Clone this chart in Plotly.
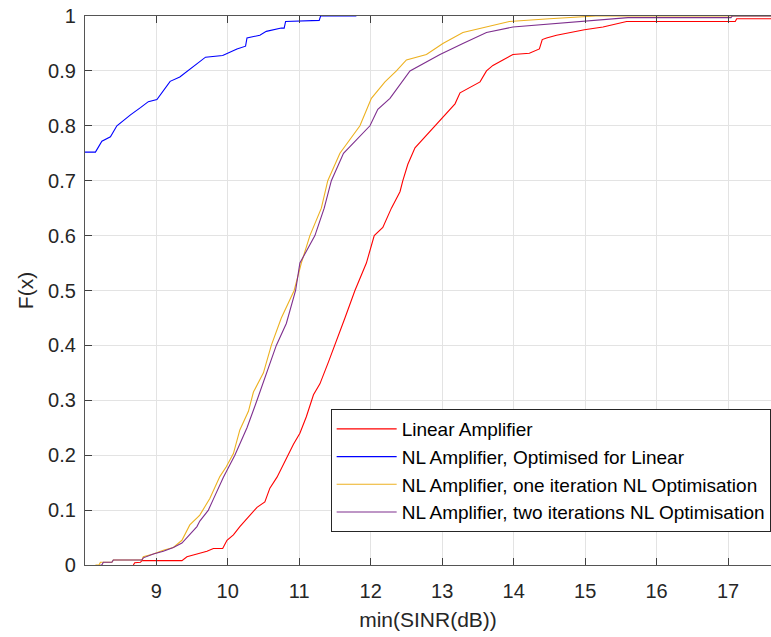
import plotly.graph_objects as go

lin_x = [8.68, 8.70, 8.78, 8.80, 9.36, 9.43, 9.57, 9.71, 9.80, 9.93, 9.99, 10.08, 10.17, 10.31, 10.41, 10.52,
         10.59, 10.69, 10.80, 10.92, 11.01, 11.10, 11.20, 11.29, 11.41, 11.50, 11.64, 11.78, 11.94,
         12.05, 12.17, 12.29, 12.41, 12.45, 12.52, 12.62, 12.76, 12.90, 13.04, 13.18, 13.25, 13.39,
         13.53, 13.62, 13.71, 13.85, 13.99, 14.22, 14.36, 14.40, 14.46, 14.60, 14.78, 14.99, 15.25, 15.44,
         15.58, 17.10, 17.12, 17.60]
lin_f = [0.0, 0.004, 0.005, 0.008, 0.008, 0.015, 0.02, 0.025, 0.03, 0.03, 0.045, 0.055, 0.07, 0.09, 0.105, 0.115,
         0.14, 0.16, 0.19, 0.22, 0.24, 0.27, 0.31, 0.33, 0.37, 0.40, 0.45, 0.50, 0.55,
         0.60, 0.615, 0.65, 0.68, 0.70, 0.73, 0.76, 0.78, 0.80, 0.82, 0.84, 0.86, 0.87,
         0.88, 0.90, 0.91, 0.92, 0.93, 0.932, 0.94, 0.957, 0.96, 0.965, 0.97, 0.975, 0.98, 0.985,
         0.99, 0.99, 0.995, 0.995]

nl_lin_x = [8.00, 8.15, 8.24, 8.36, 8.45, 8.54, 8.64, 8.78, 8.89, 9.01, 9.10, 9.195, 9.33, 9.50, 9.66,
            9.69, 9.93, 10.13, 10.25, 10.27, 10.45, 10.54, 10.75, 10.79, 10.81, 11.28, 11.30, 11.80]
nl_lin_f = [0.752, 0.752, 0.772, 0.78, 0.80, 0.81, 0.82, 0.833, 0.844, 0.848, 0.865, 0.881, 0.889, 0.906, 0.922,
            0.925, 0.928, 0.94, 0.945, 0.96, 0.965, 0.972, 0.978, 0.978, 0.99, 0.992, 1.0, 1.0]

nl1_x = [8.15, 8.20, 8.22, 8.38, 8.40, 8.80, 8.82, 8.96, 9.10, 9.24, 9.36, 9.47, 9.61, 9.75, 9.89, 9.98, 10.08, 10.17,
         10.29, 10.36, 10.50, 10.61, 10.75, 10.93, 11.03, 11.15, 11.31, 11.40, 11.57, 11.85, 12.01, 12.20,
         12.36, 12.50, 12.78, 13.01, 13.29, 13.62, 13.94, 14.50, 15.15, 17.60]
nl1_f = [0.0, 0.0, 0.005, 0.005, 0.009, 0.009, 0.015, 0.02, 0.027, 0.032, 0.045, 0.073, 0.091, 0.121, 0.161, 0.179, 0.203, 0.246,
         0.28, 0.315, 0.35, 0.40, 0.45, 0.50, 0.55, 0.60, 0.65, 0.70, 0.75, 0.80, 0.85, 0.88,
         0.90, 0.92, 0.93, 0.95, 0.97, 0.98, 0.99, 0.995, 1.0, 1.0]

nl2_x = [8.22, 8.24, 8.26, 8.38, 8.40, 8.80, 8.82, 8.96, 9.10, 9.24, 9.36, 9.43, 9.57, 9.61, 9.73, 9.80, 9.94, 10.10,
         10.17, 10.27, 10.41, 10.55, 10.68, 10.82, 10.95, 11.01, 11.22, 11.35, 11.45, 11.62, 11.99, 12.10,
         12.27, 12.55, 12.97, 13.29, 13.62, 13.99, 14.90, 15.60, 17.04, 17.06, 17.60]
nl2_f = [0.0, 0.0, 0.005, 0.005, 0.009, 0.009, 0.013, 0.02, 0.025, 0.032, 0.04, 0.05, 0.07, 0.08, 0.10, 0.12, 0.16, 0.20,
         0.22, 0.25, 0.30, 0.35, 0.40, 0.44, 0.50, 0.55, 0.60, 0.65, 0.70, 0.75, 0.80, 0.83,
         0.85, 0.90, 0.93, 0.95, 0.97, 0.98, 0.99, 0.997, 0.997, 1.0, 1.0]

names = ["Linear Amplifier", "NL Amplifier, Optimised for Linear",
         "NL Amplifier, one iteration NL Optimisation", "NL Amplifier, two iterations NL Optimisation"]
colors = ["#FF0000", "#0000FF", "#EDB120", "#7E2F8E"]
series = [(lin_x, lin_f), (nl_lin_x, nl_lin_f), (nl1_x, nl1_f), (nl2_x, nl2_f)]

x_ticks = [9, 10, 11, 12, 13, 14, 15, 16, 17]
y_ticks = [0, 0.1, 0.2, 0.3, 0.4, 0.5, 0.6, 0.7, 0.8, 0.9, 1]
y_tick_text = ["0", "0.1", "0.2", "0.3", "0.4", "0.5", "0.6", "0.7", "0.8", "0.9", "1"]

fig = go.Figure()
for (xs, fs), n, c in zip(series, names, colors):
    fig.add_trace(go.Scatter(x=xs, y=fs, mode="lines", name=n,
                             line=dict(color=c, width=1.1)))

font = "Liberation Sans, Arial, sans-serif"
fig.update_layout(
    width=771, height=637,
    margin=dict(l=85, r=0, t=16, b=72),
    paper_bgcolor="white", plot_bgcolor="white",
    font=dict(family=font, size=20, color="#262626"),
    showlegend=True,
    legend=dict(x=0.9995, y=0.06, xanchor="right", yanchor="bottom",
                bgcolor="white", bordercolor="#262626", borderwidth=1,
                itemwidth=60,
                font=dict(size=19, color="#000000"), tracegroupgap=0),
    xaxis=dict(range=[8.004, 17.6], tickvals=x_ticks, ticks="inside", ticklen=7,
               tickcolor="#404040", showline=True, linecolor="#555555", linewidth=1.2,
               mirror="ticks", showgrid=True, gridcolor="#E3E3E3", gridwidth=1,
               zeroline=False, tickfont=dict(size=20, color="#262626"), ticklabelstandoff=8,
               title=dict(text="min(SINR(dB))", font=dict(size=21, color="#262626"), standoff=11)),
    yaxis=dict(range=[0, 1], tickvals=y_ticks, ticktext=y_tick_text, ticks="inside", ticklen=7,
               tickcolor="#404040", showline=True, linecolor="#555555", linewidth=1.2,
               showgrid=True, gridcolor="#E3E3E3", gridwidth=1, zeroline=False,
               tickfont=dict(size=20, color="#262626"), ticklabelstandoff=4,
               title=dict(text="F(x)", font=dict(size=21, color="#262626"), standoff=8)),
)

fig.write_html("out.html")
